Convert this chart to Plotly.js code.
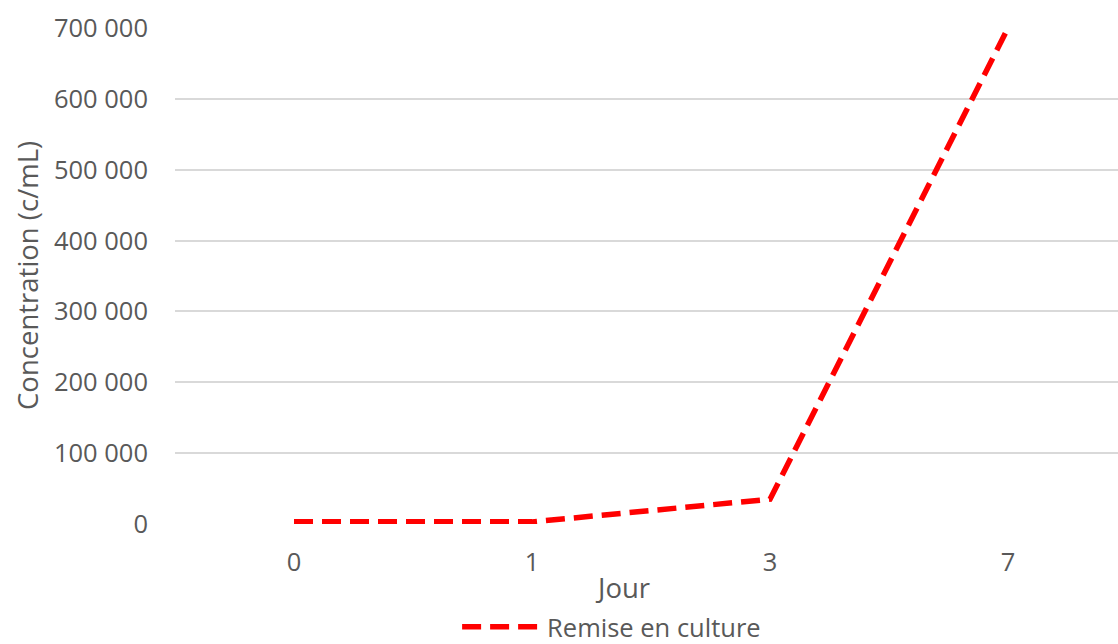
<!DOCTYPE html>
<html>
<head>
<meta charset="utf-8">
<script src="https://cdn.plot.ly/plotly-3.0.1.min.js"></script>
<style>html,body{margin:0;padding:0;background:#fff;}#chart{width:1118px;height:644px;}</style>
</head>
<body>
<div id="chart"></div>
<script>
const days = ['0', '1', '3', '7'];
const concentration = [3000, 3000, 35000, 700000];
const seriesName = 'Remise en culture';
const yTicks = [0, 100000, 200000, 300000, 400000, 500000, 600000, 700000];

const grey = '#595959';
const fontFam = '"Open Sans", "DejaVu Sans", sans-serif';

const trace = {
  x: days,
  y: concentration,
  type: 'scatter',
  mode: 'lines',
  name: seriesName,
  line: {color: '#ff0000', width: 5.5, dash: '19px,9px'},
  showlegend: true
};

const layout = {
  width: 1118,
  height: 644,
  margin: {l: 175, r: 0, t: 28, b: 120, autoexpand: false},
  paper_bgcolor: '#ffffff',
  plot_bgcolor: '#ffffff',
  separators: ', ',
  font: {family: fontFam, color: grey, size: 25.5},
  xaxis: {
    type: 'category',
    range: [-0.5, 3.462],
    showgrid: false,
    zeroline: false,
    showline: false,
    ticks: '',
    ticklabelstandoff: 20,
    tickfont: {size: 25.5, color: grey, family: fontFam}
  },
  yaxis: {
    range: [0, 700000],
    tickvals: yTicks,
    tickformat: ',d',
    showgrid: true,
    gridcolor: '#d9d9d9',
    gridwidth: 2,
    zeroline: false,
    showline: false,
    ticks: '',
    ticklabelstandoff: 26,
    tickfont: {size: 25.5, color: grey, family: fontFam}
  },
  showlegend: true,
  legend: {
    orientation: 'h',
    x: 0.463,
    xanchor: 'center',
    y: -0.208,
    yanchor: 'middle',
    itemwidth: 80,
    font: {size: 25.5, color: grey, family: fontFam},
    bgcolor: 'rgba(0,0,0,0)'
  },
  annotations: [
    {
      text: 'Jour',
      xref: 'paper', yref: 'paper',
      x: 0.475, y: -0.129,
      xanchor: 'center', yanchor: 'middle',
      showarrow: false,
      font: {size: 27.5, color: grey, family: fontFam}
    },
    {
      text: 'Concentration (c/mL)',
      xref: 'paper', yref: 'paper',
      x: -0.157, y: 0.502,
      xanchor: 'center', yanchor: 'middle',
      textangle: -90,
      showarrow: false,
      font: {size: 27.5, color: grey, family: fontFam}
    }
  ]
};

Plotly.newPlot('chart', [trace], layout, {displayModeBar: false, staticPlot: true});
</script>
</body>
</html>
